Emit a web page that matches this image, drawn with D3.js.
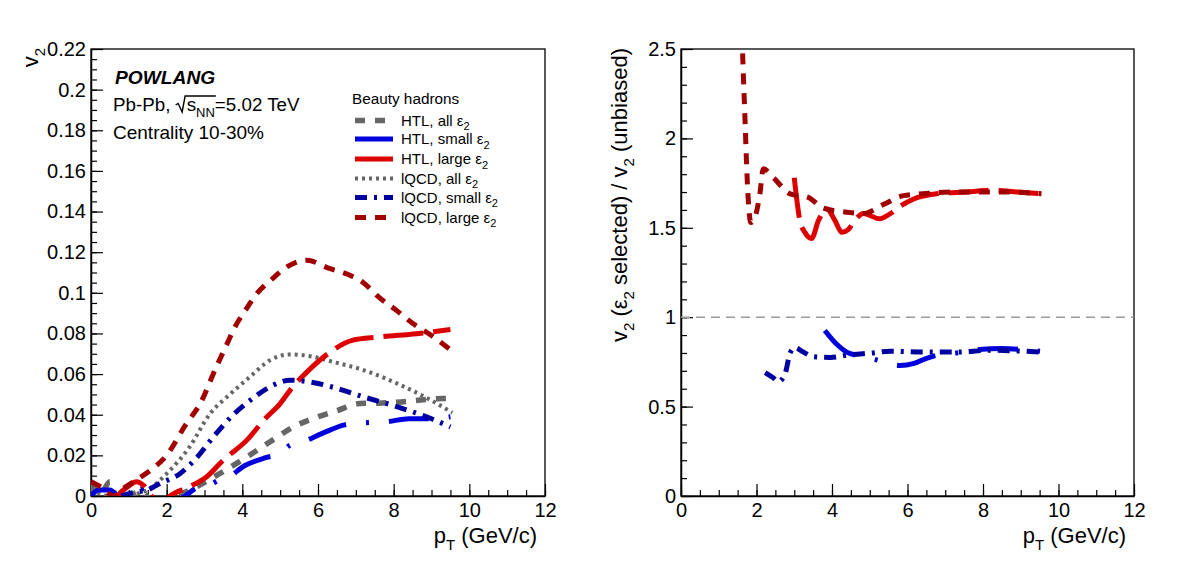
<!DOCTYPE html>
<html><head><meta charset="utf-8">
<script src="https://cdn.jsdelivr.net/npm/d3@7"></script>
<style>body{margin:0;background:#fff} svg{display:block} text{font-family:"Liberation Sans",Arial,Helvetica,sans-serif}</style>
</head><body><svg id="c" width="1182" height="571"></svg>
<script>
// ---------- data (pT in GeV/c, value) ----------
const xTicks = [0,2,4,6,8,10,12];
const yTicksLeft = [0,0.02,0.04,0.06,0.08,0.1,0.12,0.14,0.16,0.18,0.2,0.22];
const yTicksRight = [0,0.5,1,1.5,2,2.5];

const htlAll = [[0,0.006],[0.25,0.001],[0.5,0.007],[0.7,-0.002],[1.0,0.0],[1.3,0.002],[1.6,-0.002],[2.0,-0.004],[2.35,0.0005],[2.8,0.0046],[3.4,0.011],[4.1,0.019],[4.8,0.0275],[5.35,0.034],[6.0,0.039],[6.5,0.042],[7.1,0.0455],[7.6,0.0457],[8.2,0.0463],[8.7,0.0472],[9.3,0.048],[9.55,0.048]];
const htlSmall = [[0,0.0],[0.2,0.003],[0.5,0.003],[0.7,0.0],[1.0,-0.002],[1.2,0.002],[1.45,0.004],[1.65,0.0],[2.0,-0.003],[2.4,-0.001],[2.8,0.004],[3.1,0.005],[3.4,0.008],[3.6,0.009],[4.07,0.015],[4.64,0.019],[5.0,0.021],[5.26,0.025],[5.6,0.0267],[6.1,0.0307],[6.7,0.035],[7.2,0.036],[7.8,0.0365],[8.4,0.038],[8.9,0.038],[9.5,0.039]];
const htlLarge = [[0.6,-0.002],[0.8,0.002],[1.0,0.005],[1.2,0.007],[1.4,0.005],[1.6,0.0],[1.85,-0.004],[2.09,0.0],[2.6,0.0046],[3.06,0.0095],[3.5,0.0177],[4.12,0.0275],[4.6,0.038],[5.0,0.0455],[5.26,0.052],[5.8,0.0627],[6.3,0.0705],[6.9,0.0766],[7.6,0.0782],[8.6,0.0799],[9.5,0.0819]];
const iqcdAll = [[0,0.003],[0.4,0.0],[0.8,-0.002],[1.2,0.001],[1.5,0.003],[2.0,0.011],[2.6,0.024],[3.15,0.0406],[3.67,0.050],[4.2,0.0586],[4.73,0.0668],[5.26,0.0697],[5.8,0.0688],[6.4,0.066],[7.2,0.062],[8.1,0.0553],[9.0,0.047],[9.55,0.041]];
const iqcdSmall = [[0.8,0.0],[1.2,0.002],[1.5,0.003],[1.8,0.006],[2.35,0.011],[2.8,0.019],[3.23,0.029],[3.76,0.040],[4.2,0.047],[4.73,0.0537],[5.26,0.057],[5.8,0.0561],[6.4,0.0535],[7.2,0.0488],[8.1,0.0439],[9.0,0.038],[9.5,0.034]];
const iqcdLarge = [[0,0.007],[0.3,0.004],[0.6,0.0],[0.8,0.003],[1.2,0.008],[1.6,0.013],[2.0,0.02],[2.5,0.035],[2.9,0.046],[3.3,0.063],[3.55,0.073],[3.8,0.083],[4.1,0.092],[4.4,0.1],[4.8,0.107],[5.2,0.113],[5.7,0.116],[6.3,0.112],[6.8,0.109],[7.2,0.105],[7.6,0.098],[8.1,0.091],[8.5,0.085],[9.0,0.079],[9.5,0.072]];

// ratio v2(selected)/v2(unbiased)
const ratioHtlSmall = [[3.81,0.926],[4.12,0.85],[4.39,0.805],[4.65,0.787],[4.83,0.78],[5.2,0.76],[5.6,0.735],[5.8,0.73],[6.15,0.74],[6.5,0.77],[6.77,0.787],[7.3,0.80],[7.9,0.82],[8.5,0.825],[9.0,0.82],[9.51,0.81]];
const ratioHtlLarge = [[3.0,1.78],[3.15,1.54],[3.28,1.475],[3.46,1.44],[3.64,1.54],[3.86,1.605],[4.08,1.54],[4.26,1.475],[4.43,1.49],[4.6,1.54],[4.83,1.58],[5.0,1.57],[5.25,1.55],[5.55,1.58],[5.8,1.62],[6.15,1.66],[6.77,1.69],[7.57,1.70],[8.27,1.71],[8.9,1.70],[9.55,1.69]];
const ratioIqcdSmall = [[2.23,0.69],[2.45,0.66],[2.58,0.64],[2.76,0.685],[2.89,0.80],[3.02,0.83],[3.24,0.805],[3.5,0.78],[3.95,0.775],[4.48,0.79],[5.09,0.80],[5.54,0.81],[6.42,0.805],[7.3,0.805],[8.19,0.815],[9.07,0.81],[9.51,0.805]];
const ratioIqcdLarge = [[1.6,2.7],[1.63,2.49],[1.70,2.08],[1.74,1.84],[1.8,1.6],[1.85,1.53],[1.96,1.56],[2.09,1.69],[2.18,1.83],[2.45,1.78],[2.89,1.69],[3.37,1.67],[3.77,1.61],[4.3,1.59],[4.83,1.58],[5.36,1.63],[5.89,1.68],[6.4,1.69],[7.13,1.70],[8.0,1.70],[8.7,1.70],[9.55,1.69]];

const legendLabels = ["HTL, all", "HTL, small", "HTL, large", "lQCD, all", "lQCD, small", "lQCD, large"];

// ---------- styles ----------
const st = {
  htlAll:   {color:"#666666", w:5.5, dash:"10,10"},
  htlSmall: {color:"#0000dd", w:5,   dash:"40,20,3,20", legendSolid:true},
  htlLarge: {color:"#dd0000", w:5,   dash:"40,10", legendSolid:true},
  iqcdAll:  {color:"#666666", w:4,   dash:"3,4"},
  iqcdSmall:{color:"#0000a0", w:5,   dash:"12,7,3,7"},
  iqcdLarge:{color:"#a00000", w:5,   dash:"11,9"}
};
const legendStyles = [st.htlAll, st.htlSmall, st.htlLarge, st.iqcdAll, st.iqcdSmall, st.iqcdLarge];

const svg = d3.select("#c");
const yTop = 49, yBot = 496;
const xL = d3.scaleLinear().domain([0,12]).range([91,545]);
const yL = d3.scaleLinear().domain([0,0.22]).range([yBot,yTop]);
const xR = d3.scaleLinear().domain([0,12]).range([681,1134]);
const yR = d3.scaleLinear().domain([0,2.5]).range([yBot,yTop]);

function range(a,b,s){const r=[];for(let v=a;v<=b+1e-9;v+=s)r.push(+v.toFixed(6));return r;}

function drawAxes(x, y, yTicks, yMinorStep, yFmt, id){
  const g = svg.append("g");
  g.append("rect").attr("x",x.range()[0]).attr("y",yTop).attr("width",x.range()[1]-x.range()[0]).attr("height",yBot-yTop)
    .attr("fill","none").attr("stroke","#000").attr("stroke-width",1.3);
  svg.append("clipPath").attr("id",id).append("rect").attr("x",x.range()[0]).attr("y",yTop)
    .attr("width",x.range()[1]-x.range()[0]).attr("height",yBot-yTop);
  g.append("g").attr("transform",`translate(0,${yBot})`)
    .call(d3.axisBottom(x).tickValues(range(0,12,0.5)).tickSizeInner(-6).tickSizeOuter(0).tickFormat(""))
    .call(s=>s.select(".domain").remove());
  g.append("g").attr("transform",`translate(0,${yBot})`)
    .call(d3.axisBottom(x).tickValues(xTicks).tickSizeInner(-12).tickSizeOuter(0).tickPadding(7).tickFormat(d3.format("d")))
    .call(s=>s.selectAll("text").attr("font-size",20).attr("font-family","Liberation Sans, Arial, sans-serif"));
  g.append("g").attr("transform",`translate(${x.range()[0]},0)`)
    .call(d3.axisLeft(y).tickValues(range(0,y.domain()[1],yMinorStep)).tickSizeInner(-6).tickSizeOuter(0).tickFormat(""))
    .call(s=>s.select(".domain").remove());
  g.append("g").attr("transform",`translate(${x.range()[0]},0)`)
    .call(d3.axisLeft(y).tickValues(yTicks).tickSizeInner(-12).tickSizeOuter(0).tickPadding(5).tickFormat(yFmt))
    .call(s=>s.selectAll("text").attr("font-size",20).attr("font-family","Liberation Sans, Arial, sans-serif"));
  g.selectAll(".domain").attr("stroke-width",1.5);
  g.selectAll(".tick line").attr("stroke-width",1.2);
}

drawAxes(xL, yL, yTicksLeft, 0.005, d=>d===0?"0":String(+d.toFixed(2)), "clipL");
drawAxes(xR, yR, yTicksRight, 0.1, d=>String(d), "clipR");

function drawSeries(clip, x, y, data, s){
  const line = d3.line().x(d=>x(d[0])).y(d=>y(d[1])).curve(d3.curveMonotoneX);
  svg.append("path").attr("clip-path",`url(#${clip})`).attr("d",line(data))
    .attr("fill","none").attr("stroke",s.color).attr("stroke-width",s.w).attr("stroke-dasharray",s.dash);
}

svg.append("line").attr("x1",xR(0)).attr("x2",xR(12)).attr("y1",yR(1)).attr("y2",yR(1))
  .attr("stroke","#9a9a9a").attr("stroke-width",1.4).attr("stroke-dasharray","9,6");

drawSeries("clipL", xL, yL, iqcdAll, st.iqcdAll);
drawSeries("clipL", xL, yL, htlAll, st.htlAll);
drawSeries("clipL", xL, yL, htlSmall, st.htlSmall);
drawSeries("clipL", xL, yL, htlLarge, st.htlLarge);
drawSeries("clipL", xL, yL, iqcdSmall, st.iqcdSmall);
drawSeries("clipL", xL, yL, iqcdLarge, st.iqcdLarge);

drawSeries("clipR", xR, yR, ratioHtlSmall, st.htlSmall);
drawSeries("clipR", xR, yR, ratioHtlLarge, st.htlLarge);
drawSeries("clipR", xR, yR, ratioIqcdSmall, st.iqcdSmall);
drawSeries("clipR", xR, yR, ratioIqcdLarge, st.iqcdLarge);

function rich(parent, x, y, runs, size, anchor, transform){
  const t = parent.append("text").attr("x",x).attr("y",y).attr("font-size",size).attr("text-anchor",anchor||"start");
  if(transform) t.attr("transform",transform);
  let shifted = false;
  const subSize = Math.round(size*0.7);
  const shift = size*0.3;
  runs.forEach(r=>{
    const ts = t.append("tspan").text(r.t);
    if(r.sub){ ts.attr("font-size",subSize); if(!shifted){ts.attr("dy",shift);shifted=true;} }
    else { if(shifted){ts.attr("dy",-shift);shifted=false;} }
    if(r.dx) ts.attr("dx",r.dx);
  });
  return t;
}

rich(svg, 545-8, 543, [{t:"p"},{t:"T",sub:true},{t:" (GeV/c)"}], 22, "end");
rich(svg, 1134-8, 543, [{t:"p"},{t:"T",sub:true},{t:" (GeV/c)"}], 22, "end");
rich(svg, 0, 0, [{t:"v"},{t:"2",sub:true}], 22, "end", "translate(38,48) rotate(-90)");
rich(svg, 0, 0, [{t:"v"},{t:"2",sub:true},{t:" (ε"},{t:"2",sub:true},{t:" selected) / v"},{t:"2",sub:true},{t:" (unbiased)"}], 22, "end", "translate(627,48) rotate(-90)");

svg.append("text").attr("x",115).attr("y",84).attr("font-size",19.2).attr("font-weight","bold").attr("font-style","italic").text("POWLANG");
const t2 = rich(svg, 113, 111, [{t:"Pb-Pb, "},{t:"s",dx:11},{t:"NN",sub:true},{t:"=5.02 TeV"}], 18.8, "start");
{
  const n = t2.node();
  const sx = n.getStartPositionOfChar(7).x;
  const ex = n.getEndPositionOfChar(9).x;
  const by = 111;
  svg.append("path").attr("d",`M${sx-11},${by-6} L${sx-8.5},${by-7.5} L${sx-4.5},${by+1} L${sx-1.5},${by-15} L${ex+1},${by-15}`)
    .attr("fill","none").attr("stroke","#000").attr("stroke-width",1.4);
}
svg.append("text").attr("x",113).attr("y",139).attr("font-size",19).text("Centrality 10-30%");

svg.append("text").attr("x",352).attr("y",104).attr("font-size",15.3).text("Beauty hadrons");
const legendY = [120.5, 139, 159, 178.5, 197.5, 217.5];
legendLabels.forEach((lab,i)=>{
  const s = legendStyles[i];
  const yy = legendY[i];
  svg.append("line").attr("x1",355).attr("x2",393).attr("y1",yy).attr("y2",yy)
    .attr("stroke",s.color).attr("stroke-width",s.w).attr("stroke-dasharray",s.legendSolid?null:s.dash);
  rich(svg, 401, yy+5, [{t:lab+" ε"},{t:"2",sub:true}], 15, "start");
});
</script></body></html>
